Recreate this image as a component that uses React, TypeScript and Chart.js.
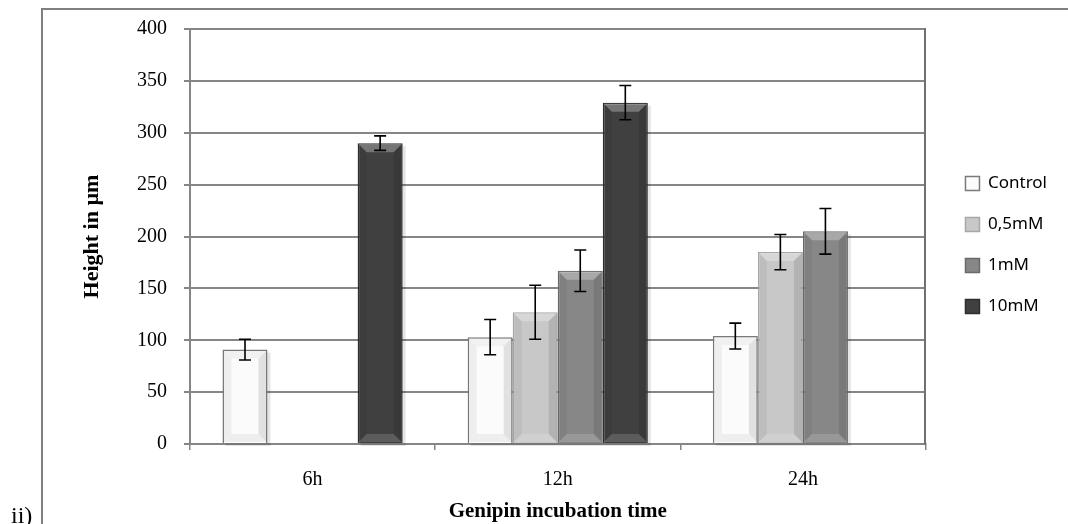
import React, { useEffect, useRef } from "react";
import { Chart, registerables } from "chart.js";

Chart.register(...registerables);

const categories = ["6h", "12h", "24h"];
const seriesNames = ["Control", "0,5mM", "1mM", "10mM"];
const controlValues = [91, 103, 104];
const controlErrors = [10, 17, 12.5];
const halfMMValues = [null, 127, 185];
const halfMMErrors = [null, 26, 17];
const oneMMValues = [null, 167, 205];
const oneMMErrors = [null, 20, 22];
const tenMMValues = [290, 329, null];
const tenMMErrors = [7, 16.5, null];
const yTicks = [0, 50, 100, 150, 200, 250, 300, 350, 400];

const fills = ["#fbfbfb", "#c8c8c8", "#878787", "#404040"];
const borders = ["#7a7a7a", "#a8a8a8", "#6a6a6a", "#2e2e2e"];

const errorSets = [controlErrors, halfMMErrors, oneMMErrors, tenMMErrors];

const decorPlugin = {
  id: "decor",
  afterLayout(chart: any) {
    const lg = chart.legend;
    if (lg) {
      lg.bottom = lg.bottom - 62;
      lg.height = lg.bottom - lg.top;
    }
  },
  beforeDraw(chart: any) {
    const ctx = chart.ctx;
    ctx.save();
    ctx.fillStyle = "#ffffff";
    ctx.fillRect(0, 0, chart.width, chart.height);
    ctx.strokeStyle = "#808080";
    ctx.lineWidth = 2;
    ctx.beginPath();
    ctx.moveTo(42, chart.height);
    ctx.lineTo(42, 9);
    ctx.lineTo(chart.width, 9);
    ctx.stroke();
    ctx.fillStyle = "#000";
    ctx.font = "24px 'Liberation Serif'";
    ctx.textBaseline = "alphabetic";
    ctx.fillText("ii)", 11, 523);
    ctx.restore();
  },
  beforeDatasetsDraw(chart: any) {
    const ctx = chart.ctx;
    ctx.save();
    ctx.fillStyle = "rgba(0,0,0,0.10)";
    chart.data.datasets.forEach((ds: any, di: number) => {
      const meta = chart.getDatasetMeta(di);
      meta.data.forEach((bar: any, i: number) => {
        const v = ds.data[i];
        if (v === null || v === undefined) return;
        const p = bar.getProps(["x", "y", "base", "width"], true);
        ctx.fillRect(p.x - p.width / 2 + 3, p.y + 3, p.width, p.base - p.y);
      });
    });
    ctx.restore();
  },
  afterDatasetsDraw(chart: any) {
    const ctx = chart.ctx;
    const yScale = chart.scales.y;
    ctx.save();
    chart.data.datasets.forEach((ds: any, di: number) => {
      const meta = chart.getDatasetMeta(di);
      meta.data.forEach((bar: any, i: number) => {
        const v = ds.data[i];
        if (v === null || v === undefined) return;
        const p = bar.getProps(["x", "y", "base", "width"], true);
        const l = p.x - p.width / 2 + 1;
        const r = p.x + p.width / 2 - 1;
        const t = p.y + 1;
        const b = p.base - 1;
        const d = 8;
        const shade = (pts: number[][], color: string) => {
          ctx.beginPath();
          ctx.moveTo(pts[0][0], pts[0][1]);
          for (let k = 1; k < pts.length; k++) ctx.lineTo(pts[k][0], pts[k][1]);
          ctx.closePath();
          ctx.fillStyle = color;
          ctx.fill();
        };
        const dark = di > 0;
        shade([[l, t], [r, t], [r - d, t + d], [l + d, t + d]], dark ? "rgba(255,255,255,0.28)" : "rgba(0,0,0,0.04)");
        shade([[l, t], [l + d, t + d], [l + d, b - d], [l, b]], "rgba(0,0,0,0.05)");
        shade([[r, t], [r - d, t + d], [r - d, b - d], [r, b]], "rgba(0,0,0,0.10)");
        shade([[l, b], [l + d, b - d], [r - d, b - d], [r, b]], dark ? "rgba(255,255,255,0.15)" : "rgba(0,0,0,0.05)");
      });
    });
    ctx.strokeStyle = "#000";
    ctx.lineWidth = 1.6;
    chart.data.datasets.forEach((ds: any, di: number) => {
      const meta = chart.getDatasetMeta(di);
      const errs = errorSets[di];
      meta.data.forEach((bar: any, i: number) => {
        const v = ds.data[i];
        const e = errs[i];
        if (v === null || v === undefined || e === null || e === undefined) return;
        const x = bar.x;
        const yTop = yScale.getPixelForValue(v + e);
        const yBot = yScale.getPixelForValue(v - e);
        const cap = 6;
        ctx.beginPath();
        ctx.moveTo(x, yTop);
        ctx.lineTo(x, yBot);
        ctx.moveTo(x - cap, yTop);
        ctx.lineTo(x + cap, yTop);
        ctx.moveTo(x - cap, yBot);
        ctx.lineTo(x + cap, yBot);
        ctx.stroke();
      });
    });
    ctx.restore();
  },
};

export default function App() {
  const ref = useRef<HTMLCanvasElement>(null);
  useEffect(() => {
    if (!ref.current) return;
    Chart.defaults.color = "#000";
    const valueSets = [controlValues, halfMMValues, oneMMValues, tenMMValues];
    const chart = new Chart(ref.current, {
      type: "bar",
      data: {
        labels: categories,
        datasets: seriesNames.map((name, i) => ({
          label: name,
          data: valueSets[i] as any,
          backgroundColor: fills[i],
          borderColor: borders[i],
          borderWidth: 1.5,
          categoryPercentage: 0.735,
          barPercentage: 1.0,
        })),
      },
      options: {
        responsive: false,
        animation: false,
        layout: { padding: { top: 28, left: 70, right: 11, bottom: 0 } },
        plugins: {
          legend: {
            position: "right",
            labels: {
              font: { family: "'Noto Sans'", size: 17 },
              color: "#000",
              boxWidth: 14,
              boxHeight: 14,
              padding: 24,
            },
          },
          tooltip: { enabled: false },
        },
        scales: {
          x: {
            grid: {
              display: true,
              drawOnChartArea: false,
              drawTicks: true,
              tickLength: 6,
              color: "#868686",
              lineWidth: 1.5,
              offset: true,
            },
            border: { display: true, color: "#868686", width: 2 },
            ticks: { font: { family: "'Liberation Serif'", size: 20 }, color: "#000", padding: 18 },
            title: {
              display: true,
              text: "Genipin incubation time",
              font: { family: "'Liberation Serif'", size: 21, weight: "bold" },
              color: "#000",
              padding: { top: 0, bottom: 0 },
            },
            afterFit(scale: any) {
              scale.height = 80;
            },
          },
          y: {
            min: 0,
            max: 400,
            afterBuildTicks(scale: any) {
              scale.ticks = yTicks.map((v) => ({ value: v }));
            },
            grid: { color: "#868686", lineWidth: 2, tickLength: 6, drawTicks: true },
            border: { display: true, color: "#868686", width: 2 },
            ticks: { font: { family: "'Liberation Serif'", size: 20 }, color: "#000", padding: 17 },
            title: {
              display: true,
              text: "Height in µm",
              font: { family: "'Liberation Serif'", size: 22, weight: "bold" },
              color: "#000",
              padding: { top: 9, bottom: 0 },
            },
            afterFit(scale: any) {
              scale.width = 120;
            },
          },
          y2: {
            position: "right",
            min: 0,
            max: 400,
            grid: { display: false },
            ticks: { display: false },
            border: { display: true, color: "#707070", width: 2 },
            afterFit(scale: any) {
              scale.width = 16;
            },
          },
        },
      },
      plugins: [decorPlugin],
    });
    return () => chart.destroy();
  }, []);
  return (
    <div style={{ position: "fixed", left: 0, top: 0, width: 1068, height: 524, background: "#fff" }}>
      <canvas ref={ref} width={1068} height={524} style={{ display: "block" }} />
    </div>
  );
}
